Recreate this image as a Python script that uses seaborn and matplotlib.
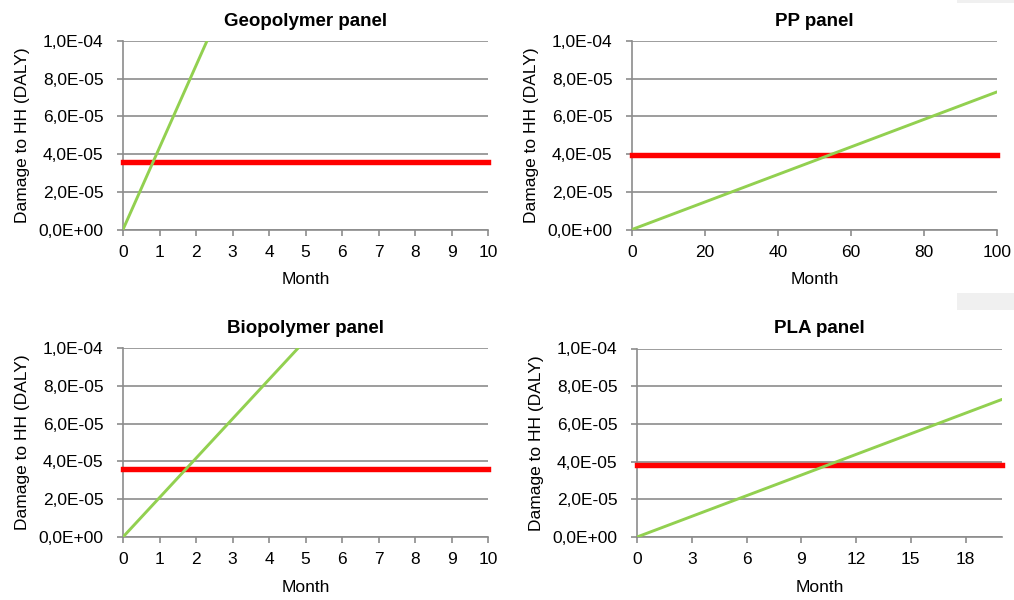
import matplotlib
matplotlib.use("Agg")
import matplotlib.pyplot as plt
from matplotlib.patches import Rectangle
from matplotlib.ticker import FuncFormatter
import seaborn as sns

# panel titles
titles = ["Geopolymer panel", "PP panel", "Biopolymer panel", "PLA panel"]

# green line (damage accumulated over time), endpoints
green_month = [[0, 2.3], [0, 100], [0, 4.8], [0, 20]]
green_damage = [[0, 1.0e-4], [0, 7.3e-5], [0, 1.0e-4], [0, 7.3e-5]]

# red line (constant reference level)
red_level = [3.6e-5, 3.95e-5, 3.6e-5, 3.8e-5]

# x axis range and ticks per panel
x_max = [10, 100, 10, 20]
x_ticks = [list(range(0, 11)), list(range(0, 101, 20)), list(range(0, 11)), list(range(0, 19, 3))]
y_ticks = [0, 2e-5, 4e-5, 6e-5, 8e-5, 1e-4]

sns.set_style("white")
plt.rcParams["font.family"] = ["Liberation Sans", "DejaVu Sans"]
plt.rcParams["text.color"] = "black"
plt.rcParams["axes.labelcolor"] = "black"

GRID = "#8c8c8c"
GREEN = "#92D050"
RED = "#FF0000"


def sci_comma(v, pos):
    return f"{v:.1E}".replace(".", ",")


fig = plt.figure(figsize=(10.14, 6.0), dpi=100)
W, H = 1014, 600
# axes boxes in pixels: left, top, right, bottom
boxes = [(123, 41, 488, 229.5), (632, 41, 997, 229.5),
         (123, 348, 488, 537), (637, 348.5, 1002, 537)]

for i, (l, t, r, b) in enumerate(boxes):
    ax = fig.add_axes([l / W, 1 - b / H, (r - l) / W, (b - t) / H])
    sns.lineplot(x=[0, x_max[i]], y=[red_level[i], red_level[i]], ax=ax, color=RED,
                 linewidth=3.9, solid_capstyle="projecting", clip_on=False, zorder=3)
    sns.lineplot(x=green_month[i], y=green_damage[i], ax=ax, color=GREEN,
                 linewidth=2.1, zorder=4)
    ax.set_xlim(0, x_max[i])
    ax.set_ylim(0, 1e-4)
    ax.set_xticks(x_ticks[i])
    ax.set_yticks(y_ticks)
    ax.yaxis.set_major_formatter(FuncFormatter(sci_comma))
    ax.grid(axis="y", color=GRID, linewidth=1.2)
    ax.set_axisbelow(True)
    for s in ["top", "right"]:
        ax.spines[s].set_visible(False)
    for s in ["left", "bottom"]:
        ax.spines[s].set_color(GRID)
        ax.spines[s].set_linewidth(1.2)
    ax.tick_params(axis="both", which="major", length=4, width=1.2, color=GRID,
                   labelsize=12.5, labelcolor="black", direction="out")
    ax.tick_params(axis="x", pad=7, bottom=True)
    ax.tick_params(axis="y", pad=10, left=True)
    ax.set_xlabel("Month", fontsize=12.5, labelpad=9)
    ax.set_ylabel("Damage to HH (DALY)", fontsize=12.5, labelpad=6)
    ax.set_title(titles[i], fontsize=13.5, fontweight="bold", pad=11)

# faint grey boxes visible at the right edge of the original image
fig.add_artist(Rectangle((957 / W, 1 - 3 / H), 57 / W, 3 / H, transform=fig.transFigure,
                         facecolor="#f0f0f0", edgecolor="none"))
fig.add_artist(Rectangle((957 / W, 1 - 310 / H), 57 / W, 17 / H, transform=fig.transFigure,
                         facecolor="#f0f0f0", edgecolor="none"))

fig.savefig("out.png", dpi=100)
